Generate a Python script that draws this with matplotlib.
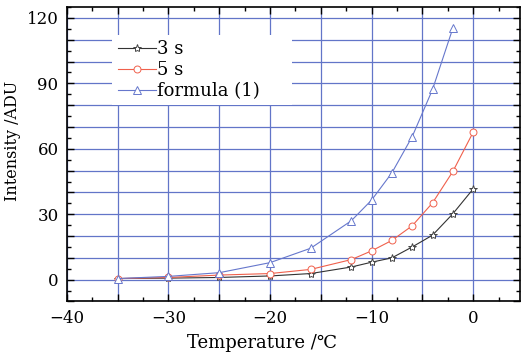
import matplotlib
matplotlib.use('Agg')
import matplotlib.pyplot as plt
from matplotlib.ticker import MultipleLocator, FuncFormatter

plt.rcParams['font.family'] = ['DejaVu Serif', 'DejaVu Sans']
plt.rcParams['mathtext.fontset'] = 'dejavuserif'

# data
temps = [-35, -30, -25, -20, -16, -12, -10, -8, -6, -4, -2, 0]
int_3s = [0.5, 0.7, 1.0, 1.7, 2.8, 5.8, 8.0, 10.0, 15.0, 20.4, 30.2, 41.6]
int_5s = [0.5, 1.0, 2.1, 2.8, 4.7, 9.2, 13.2, 18.0, 24.7, 35.2, 49.6, 67.6]
temps_formula = [-35, -30, -25, -20, -16, -12, -10, -8, -6, -4, -2]
int_formula = [0.5, 1.5, 3.2, 7.8, 14.4, 27.0, 36.5, 49.0, 65.6, 87.2, 115.3]

grid_c = '#6275c8'

fig = plt.figure(figsize=(5.23, 3.53), dpi=100)
ax = fig.add_axes([0.128, 0.146, 0.866, 0.834])

ax.plot(temps, int_3s, color='#333333', lw=0.8, marker='*', ms=6,
        mfc='white', mec='#444444', mew=0.7, label='3 s', zorder=3)
ax.plot(temps, int_5s, color='#f0604c', lw=0.8, marker='o', ms=5,
        mfc='white', mec='#f0604c', mew=0.7, label='5 s', zorder=3)
ax.plot(temps_formula, int_formula, color='#6677cc', lw=0.8, marker='^', ms=6,
        mfc='white', mec='#6677cc', mew=0.7, label='formula (1)', zorder=3)

ax.set_xlim(-40, 4.6)
ax.set_ylim(-10, 125)

ax.xaxis.set_major_locator(MultipleLocator(5))
ax.xaxis.set_minor_locator(MultipleLocator(2.5))
ax.yaxis.set_major_locator(MultipleLocator(10))
ax.yaxis.set_minor_locator(MultipleLocator(5))
ax.xaxis.set_major_formatter(FuncFormatter(
    lambda v, p: ('%d' % v).replace('-', '\u2212') if round(v) % 10 == 0 else ''))
ax.yaxis.set_major_formatter(FuncFormatter(
    lambda v, p: '%d' % v if round(v) % 30 == 0 and v >= 0 else ''))

ax.grid(True, which='major', color=grid_c, lw=0.9, zorder=0)
ax.tick_params(which='both', direction='in', top=True, right=True,
               labelsize=12, width=1.0)
ax.tick_params(which='major', length=5, pad=6)
ax.tick_params(which='minor', length=3)
for s in ax.spines.values():
    s.set_linewidth(1.2)

ax.set_xlabel('Temperature /\u2103', fontsize=13, labelpad=1)
ax.set_ylabel('Intensity /ADU', fontsize=11.5, labelpad=4)
ax.xaxis.set_label_coords(0.43, -0.11)
ax.yaxis.set_label_coords(-0.102, 0.545)

leg = ax.legend(loc='upper left', bbox_to_anchor=(0.10, 0.67, 0.397, 0.235),
                mode='expand', borderaxespad=0, fontsize=13, frameon=True,
                fancybox=False, handlelength=2.1, handletextpad=0.1,
                labelspacing=0.15, borderpad=0.3)
leg.get_frame().set_edgecolor('none')
leg.get_frame().set_facecolor('white')
leg.get_frame().set_alpha(1)

fig.savefig('out.png', dpi=100)
